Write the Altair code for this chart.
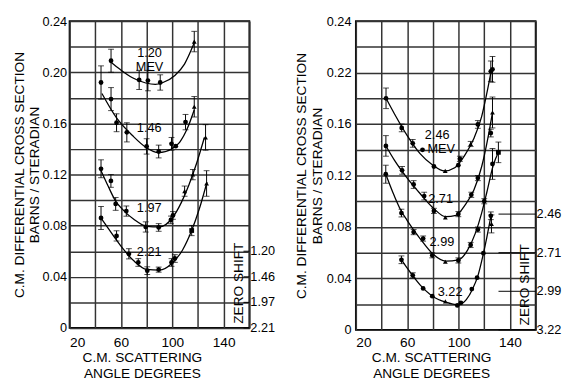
import altair as alt
import pandas as pd

FONT = "Liberation Sans"

# ---------------- Left panel: measured points ----------------
L_NAMES = ["1.20", "1.46", "1.97", "2.21"]
A_120 = [52.3, 74.2, 81.0, 90.6, 117.1]
V_120 = [0.209, 0.194, 0.1935, 0.192, 0.224]
E_120 = [0.009, 0.0075, 0.008, 0.006, 0.008]
S_120 = ["c", "c", "c", "c", "t"]

A_146 = [44.5, 52.3, 56.6, 64.6, 80.0, 89.4, 99.4, 102.7, 110.3, 117.1]
V_146 = [0.192, 0.179, 0.1605, 0.153, 0.142, 0.138, 0.144, 0.1422, 0.161, 0.173]
E_146 = [0.013, 0.009, 0.007, 0.0075, 0.006, 0.005, 0.005, 0.0, 0.006, 0.008]
S_146 = ["c", "c", "c", "c", "c", "c", "c", "c", "c", "t"]

A_197 = [44.5, 52.2, 55.9, 64.2, 79.3, 89.4, 98.9, 100.5, 109.6, 116.0, 125.9]
V_197 = [0.1245, 0.115, 0.097, 0.0914, 0.079, 0.0786, 0.0845, 0.088, 0.107, 0.120, 0.149]
E_197 = [0.007, 0.005, 0.005, 0.004, 0.004, 0.003, 0.003, 0.003, 0.004, 0.004, 0.010]
S_197 = ["c", "c", "c", "c", "c", "c", "c", "c", "t", "t", "t"]

A_221 = [44.5, 56.6, 66.2, 73.5, 80.5, 89.4, 99.4, 102.0, 115.1, 126.7]
V_221 = [0.086, 0.072, 0.058, 0.0512, 0.0448, 0.0456, 0.0512, 0.0543, 0.0762, 0.113]
E_221 = [0.009, 0.004, 0.004, 0.003, 0.003, 0.002, 0.003, 0.003, 0.004, 0.010]
S_221 = ["c", "c", "c", "c", "c", "c", "c", "c", "s", "t"]

# ---------------- Left panel: drawn curves ----------------
CA_120 = [52, 59, 69, 79.3, 86.8, 91.9, 102, 109.5, 117.1]
CV_120 = [0.208, 0.2025, 0.1957, 0.1916, 0.1905, 0.1916, 0.1975, 0.2064, 0.223]
CA_146 = [45.2, 56.6, 69.2, 79.3, 89.4, 99.4, 105.7, 112, 117.1]
CV_146 = [0.1834, 0.1643, 0.1503, 0.1414, 0.1371, 0.14, 0.1452, 0.1567, 0.1707]
CA_197 = [44.5, 50, 56, 62, 70, 80, 90, 100, 107, 113, 119, 125]
CV_197 = [0.123, 0.111, 0.099, 0.092, 0.085, 0.0795, 0.079, 0.086, 0.098, 0.112, 0.129, 0.149]
CA_221 = [44.5, 50, 60, 70, 80, 90, 100, 108, 115, 121, 127]
CV_221 = [0.086, 0.078, 0.064, 0.0525, 0.0458, 0.0452, 0.0508, 0.061, 0.076, 0.093, 0.114]

# ---------------- Right panel: measured points ----------------
R_NAMES = ["2.46", "2.71", "2.99", "3.22"]
A_246 = [43.5, 55.7, 64.3, 71.9, 80.8, 89.6, 99.8, 101.0, 109.4, 115.0, 125.1, 126.4]
V_246 = [0.180, 0.157, 0.145, 0.140, 0.127, 0.1236, 0.128, 0.133, 0.1445, 0.1597, 0.201, 0.2025]
E_246 = [0.008, 0.003, 0.003, 0.0, 0.0, 0.0, 0.0, 0.002, 0.002, 0.003, 0.008, 0.010]
S_246 = ["c", "c", "c", "c", "c", "t", "c", "c", "t", "c", "c", "c"]

A_271 = [43.4, 56.0, 65.0, 73.2, 80.8, 89.7, 99.8, 109.9, 115.0, 125.1, 126.4]
V_271 = [0.143, 0.124, 0.113, 0.104, 0.0925, 0.0874, 0.090, 0.105, 0.118, 0.153, 0.169]
E_271 = [0.008, 0.003, 0.003, 0.003, 0.002, 0.0, 0.002, 0.002, 0.002, 0.003, 0.012]
S_271 = ["c", "c", "c", "c", "c", "t", "c", "c", "c", "c", "t"]

A_299 = [43.3, 55.5, 65.0, 72.4, 79.5, 89.7, 99.8, 109.4, 115.0, 120.0, 126.4, 131.0]
V_299 = [0.121, 0.0908, 0.076, 0.071, 0.058, 0.053, 0.054, 0.066, 0.078, 0.100, 0.129, 0.138]
E_299 = [0.007, 0.003, 0.002, 0.002, 0.002, 0.0, 0.002, 0.002, 0.002, 0.002, 0.012, 0.008]
S_299 = ["c", "c", "c", "c", "c", "t", "c", "c", "c", "c", "c", "s"]

A_322 = [55.5, 64.3, 72.4, 79.5, 89.7, 99.0, 101.8, 110.3, 114.4, 119.3, 125.1, 125.6]
V_322 = [0.0545, 0.0424, 0.0322, 0.0262, 0.0222, 0.019, 0.021, 0.0317, 0.0406, 0.0596, 0.0887, 0.0824]
E_322 = [0.003, 0.002, 0.0, 0.0, 0.0, 0.0, 0.0, 0.0, 0.0, 0.0, 0.003, 0.007]
S_322 = ["c", "c", "c", "c", "t", "c", "c", "c", "c", "c", "c", "t"]

# ---------------- Right panel: drawn curves ----------------
CA_246 = [43.5, 50, 60, 70, 80, 89, 97, 105, 112, 118, 122, 125.5]
CV_246 = [0.180, 0.168, 0.151, 0.137, 0.128, 0.1235, 0.126, 0.136, 0.149, 0.166, 0.184, 0.202]
CA_271 = [43.4, 50, 60, 70, 80, 90, 98, 105, 112, 118, 123, 126.4]
CV_271 = [0.143, 0.132, 0.118, 0.106, 0.095, 0.088, 0.089, 0.097, 0.109, 0.127, 0.150, 0.169]
CA_299 = [43.3, 50, 55, 60, 70, 80, 90, 100, 107, 113, 118, 122, 127, 131]
CV_299 = [0.121, 0.104, 0.093, 0.085, 0.071, 0.059, 0.0535, 0.0545, 0.062, 0.075, 0.091, 0.107, 0.128, 0.138]
CA_322 = [55.5, 60, 70, 80, 90, 100, 106, 111, 115, 119, 122, 125.3]
CV_322 = [0.0545, 0.048, 0.035, 0.026, 0.0215, 0.0195, 0.0235, 0.032, 0.042, 0.058, 0.072, 0.089]

# ---------------- Axis texts ----------------
X_TICKS = [20, 40, 60, 80, 100, 120, 140, 160]
X_LABELS = {20: "20", 60: "60", 100: "100", 140: "140"}
Y_TICKS = [0, 0.02, 0.04, 0.06, 0.08, 0.10, 0.12, 0.14, 0.16, 0.18, 0.20, 0.22, 0.24]
Y_LABELS_L = {0: "0", 0.04: "0.04", 0.08: "0.08", 0.12: "0.12", 0.16: "0.16", 0.20: "0.20", 0.24: "0.24"}
Y_LABELS_R = {0: "0", 0.04: "0.04", 0.08: "0.08", 0.12: "0.12", 0.16: "0.16", 0.20: "0.22", 0.24: "0.24"}
SHIFT_VALS_L = [0.06, 0.04, 0.02, 0.0]
SHIFT_TEXT_L = ["1.20", "1.46", "1.97", "2.21"]
SHIFT_VALS_R = [0.09, 0.06, 0.03, 0.0]
SHIFT_TEXT_R = ["2.46", "2.71", "2.99", "3.22"]

LBL_L_TEXT = ["1.20", "MEV", "1.46", "1.97", "2.21"]
LBL_L_ANG = [82.3, 82.3, 82.0, 82.0, 82.0]
LBL_L_VAL = [0.2148, 0.2038, 0.156, 0.0934, 0.0596]
LBL_R_TEXT = ["2.46", "MEV", "2.71", "2.99", "3.22"]
LBL_R_ANG = [83.3, 86.5, 86.0, 87.0, 93.4]
LBL_R_VAL = [0.1515, 0.1405, 0.1014, 0.0685, 0.0292]

Y_TITLE = ["C.M. DIFFERENTIAL CROSS SECTION", "BARNS / STERADIAN"]
X_TITLE = ["C.M. SCATTERING", "ANGLE DEGREES"]


def points_df(names, angs, vals, errs, shapes):
    rows = []
    for n, A, V, E, S in zip(names, angs, vals, errs, shapes):
        for a, v, e, s in zip(A, V, E, S):
            rows.append(dict(series=n, ang=a, val=v, err=e, lo=v - e, hi=v + e, shp=s))
    return pd.DataFrame(rows)


def curves_df(names, angs, vals):
    rows = []
    for n, A, V in zip(names, angs, vals):
        for a, v in zip(A, V):
            rows.append(dict(series=n, ang=a, val=v))
    return pd.DataFrame(rows)


def expr_map(mapping, scale=100):
    parts = [f"round(datum.value*{scale})=={round(k * scale)} ? '{t}'" for k, t in mapping.items()]
    return " : ".join(parts) + " : ''"


def panel(pts, crv, lbl, ylabels, shift_vals, shift_text, tick_len, w, h,
          title_x, x_label_pad, y_label_pad, y_title_pad):
    xs = alt.Scale(domain=[20, 160], nice=False, zero=False)
    ys = alt.Scale(domain=[0, 0.24], nice=False)
    xax = alt.Axis(values=X_TICKS, labelExpr=expr_map(X_LABELS, 1), title=X_TITLE,
                   grid=True, gridColor="#333", gridWidth=1.5, gridOpacity=1,
                   ticks=False, domain=False, labelPadding=x_label_pad,
                   labelFontSize=14, titleFontSize=14, titleLineHeight=17,
                   titleFontWeight="normal", titlePadding=1, titleX=title_x,
                   titleAnchor="start", titleAlign="center")
    yax = alt.Axis(values=Y_TICKS, labelExpr=expr_map(ylabels), title=Y_TITLE,
                   grid=True, gridColor="#333", gridWidth=1.5, gridOpacity=1,
                   ticks=False, domain=False, labelPadding=y_label_pad,
                   labelFontSize=13, titleFontSize=14, titleLineHeight=16,
                   titleFontWeight="normal", titlePadding=y_title_pad)
    X = alt.X("ang:Q", scale=xs, axis=xax)
    Y = alt.Y("val:Q", scale=ys, axis=yax)

    curves = alt.Chart(crv).mark_line(color="black", strokeWidth=1.3,
                                      interpolate="monotone").encode(
        x=X, y=Y, detail="series:N")
    ebars = pts[pts["err"] > 0]
    bars = alt.Chart(ebars).mark_rule(color="black", strokeWidth=1).encode(
        x=X, y=alt.Y("lo:Q", scale=ys, axis=yax), y2="hi:Q")
    cap_lo = alt.Chart(ebars).mark_tick(color="black", orient="horizontal",
                                        size=6, thickness=1).encode(
        x=X, y=alt.Y("lo:Q", scale=ys, axis=yax))
    cap_hi = alt.Chart(ebars).mark_tick(color="black", orient="horizontal",
                                        size=6, thickness=1).encode(
        x=X, y=alt.Y("hi:Q", scale=ys, axis=yax))
    dots = alt.Chart(pts).mark_point(filled=True, color="black", opacity=1,
                                     size=24).encode(
        x=X, y=Y,
        shape=alt.Shape("shp:N", legend=None,
                        scale=alt.Scale(domain=["c", "t", "s"],
                                        range=["circle", "triangle-up", "square"])))
    texts = alt.Chart(lbl).mark_text(font=FONT, fontSize=13, color="black").encode(
        x=X, y=Y, text="txt:N")
    zero = alt.Chart(pd.DataFrame({"t": ["ZERO SHIFT"], "val": [0.035]})).mark_text(
        font=FONT, fontSize=14, color="black", angle=270).encode(
        x=alt.value(w - 11), y=Y, text="t:N")

    sdf = pd.DataFrame({"val": shift_vals, "txt": shift_text})
    sticks = alt.Chart(sdf).mark_rule(color="black", strokeWidth=1).encode(
        x=alt.value(w - tick_len), x2=alt.value(w), y=Y)
    slabels = alt.Chart(sdf).mark_text(font=FONT, fontSize=13, color="black",
                                       align="left", baseline="middle").encode(
        x=alt.value(w + 1), y=Y, text="txt:N")

    return alt.layer(curves, bars, cap_lo, cap_hi, dots, texts, zero,
                     sticks, slabels).properties(width=w, height=h)


left_pts = points_df(L_NAMES, [A_120, A_146, A_197, A_221], [V_120, V_146, V_197, V_221],
                     [E_120, E_146, E_197, E_221], [S_120, S_146, S_197, S_221])
left_crv = curves_df(L_NAMES, [CA_120, CA_146, CA_197, CA_221], [CV_120, CV_146, CV_197, CV_221])
left_lbl = pd.DataFrame({"txt": LBL_L_TEXT, "ang": LBL_L_ANG, "val": LBL_L_VAL})

right_pts = points_df(R_NAMES, [A_246, A_271, A_299, A_322], [V_246, V_271, V_299, V_322],
                      [E_246, E_271, E_299, E_322], [S_246, S_271, S_299, S_322])
right_crv = curves_df(R_NAMES, [CA_246, CA_271, CA_299, CA_322], [CV_246, CV_271, CV_299, CV_322])
right_lbl = pd.DataFrame({"txt": LBL_R_TEXT, "ang": LBL_R_ANG, "val": LBL_R_VAL})

left = panel(left_pts, left_crv, left_lbl, Y_LABELS_L, SHIFT_VALS_L, SHIFT_TEXT_L,
             6, 184, 314, 74, 8, 3, 0)
right = panel(right_pts, right_crv, right_lbl, Y_LABELS_R, SHIFT_VALS_R, SHIFT_TEXT_R,
              38, 184, 316, 77, 6, 5, 2)

chart = alt.hconcat(left, right, spacing=17).properties(
    padding={"left": 3, "top": 2, "right": 0, "bottom": 0},
    background="white"
).configure_view(stroke="black", strokeWidth=1.8).configure_axis(
    labelFont=FONT, titleFont=FONT, labelColor="black", titleColor="black",
    titleFontWeight="normal"
)

chart.save("out.html", embed_options={"renderer": "svg", "actions": False})
